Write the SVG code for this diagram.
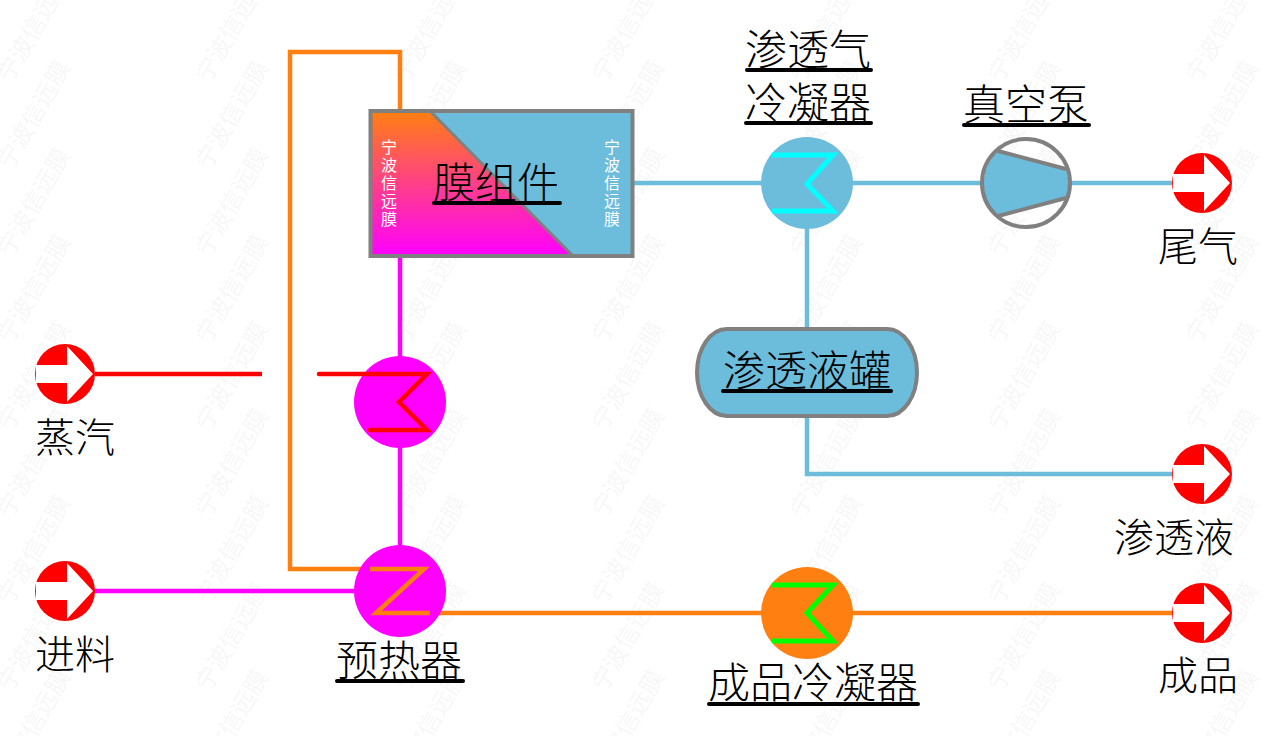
<svg xmlns="http://www.w3.org/2000/svg" width="1266" height="736" viewBox="0 0 1266 736">
<style>
text{font-family:"Noto Sans CJK SC","Liberation Serif",serif}
.lb{font-size:42px;fill:#000;font-weight:300}
.lp{font-size:40px;fill:#000;font-weight:300}
.u{fill:none;stroke:#000;stroke-width:4;stroke-linecap:round}
.wm{font-size:24px;fill:#f7f7f7}
.side{font-size:16px;fill:#fff;writing-mode:vertical-rl;letter-spacing:2px}
.c{fill:none;stroke-width:4.500}
.coil{fill:none;stroke-width:5}
.blue{stroke:#6cbcdc}.mag{stroke:#ff00ff}.org{stroke:#ff8010}.red{stroke:#ff0000}
.grey{stroke:#808080;stroke-width:4;fill:none}
</style>
<defs>
<pattern id="wmp" width="198" height="87" patternUnits="userSpaceOnUse" x="0" y="0">
<g transform="translate(11,84) rotate(-60)"><text class="wm" x="0" y="0">宁波信远膜</text></g>
<g transform="translate(11,171) rotate(-60)"><text class="wm" x="0" y="0">宁波信远膜</text></g>
</pattern>
<linearGradient id="grad" x1="0" y1="0" x2="0" y2="1"><stop offset="0" stop-color="#ff8010"/><stop offset="1" stop-color="#ff00ff"/></linearGradient>
<g id="port"><circle r="30" fill="#ff0000"/><path d="M-29,-9H2V-28L28,0L2,28V9H-29Z" fill="#fff"/></g>
</defs>
<rect width="1266" height="736" fill="#fff"/>
<rect width="1266" height="736" fill="url(#wmp)"/>
<g id="connectors">
<path class="c org" d="M400,112V52H290V569H370"/>
<path class="c mag" d="M400,256V546"/>
<path class="c mag" d="M94,591H354"/>
<path class="c red" d="M95,374H262"/>
<path class="c org" d="M430,613H1172"/>
<path class="c blue" d="M633,183H982"/>
<path class="c blue" d="M1070,183H1172"/>
<path class="c blue" d="M807,229V330"/>
<path class="c blue" d="M807,416V474H1172"/>
</g>
<g id="membrane">
<rect x="370.500" y="111" width="262" height="145" fill="#6cbcdc"/>
<path d="M370.500,111H430L573,256H370.500Z" fill="url(#grad)"/>
<path d="M430,111L573,256" stroke="#808080" stroke-width="3" fill="none"/>
<rect x="370.500" y="111" width="262" height="145" fill="none" stroke="#808080" stroke-width="4"/>
<text class="side" x="389" y="139">宁波信远膜</text>
<text class="side" x="612" y="139">宁波信远膜</text>
<text class="lb" x="433" y="198">膜组件</text><path class="u" d="M434,203H560"/>
</g>
<g id="perm-condenser">
<circle cx="807" cy="183" r="46" fill="#6cbcdc"/>
<path class="coil" stroke="#00ffff" d="M772,155H833L807,184L833,211H772"/>
<text class="lb" x="745" y="65">渗透气</text><path class="u" d="M747,70H871"/>
<text class="lb" x="745" y="118">冷凝器</text><path class="u" d="M746,123H871"/>
</g>
<g id="vacuum-pump">
<path d="M998,151L1066,169A44,44 0 0 1 1066,198L998,216A44,44 0 0 1 998,151Z" fill="#6cbcdc"/>
<path class="grey" d="M998,151L1066,169M1066,198L998,216"/>
<circle cx="1026" cy="183" r="44" class="grey"/>
<text class="lb" x="963" y="120">真空泵</text><path class="u" d="M964,125H1089"/>
</g>
<g id="tank">
<rect x="697" y="329" width="220" height="87" rx="30" ry="43.500" fill="#6cbcdc" stroke="#808080" stroke-width="4"/>
<text class="lb" x="723" y="386">渗透液罐</text><path class="u" d="M723,391H891"/>
</g>
<g id="steam-heater">
<circle cx="400" cy="402" r="46" fill="#ff00ff"/>
<path class="c red" stroke-linecap="round" d="M319,374H427L399,402L427,430H370"/>
</g>
<g id="preheater">
<circle cx="400" cy="591" r="46" fill="#ff00ff"/>
<path class="c org" d="M370,569H424L376,613H430"/>
<text class="lb" x="336" y="676">预热器</text><path class="u" d="M337,681H463"/>
</g>
<g id="product-condenser">
<circle cx="807" cy="613" r="46" fill="#ff8010"/>
<path class="coil" stroke="#00ff00" d="M772,585H833L807,613L833,641H772"/>
<text class="lb" x="708" y="698">成品冷凝器</text><path class="u" d="M709,704H918"/>
</g>
<g id="port-steam"><use href="#port" x="65" y="374"/><text class="lp" x="35" y="452">蒸汽</text></g>
<g id="port-feed"><use href="#port" x="65" y="591"/><text class="lp" x="35" y="669">进料</text></g>
<g id="port-tail"><use href="#port" x="1202" y="183"/><text class="lp" x="1158" y="261">尾气</text></g>
<g id="port-permeate"><use href="#port" x="1202" y="474"/><text class="lp" x="1114" y="552">渗透液</text></g>
<g id="port-product"><use href="#port" x="1202" y="613"/><text class="lp" x="1158" y="690">成品</text></g>
</svg>
